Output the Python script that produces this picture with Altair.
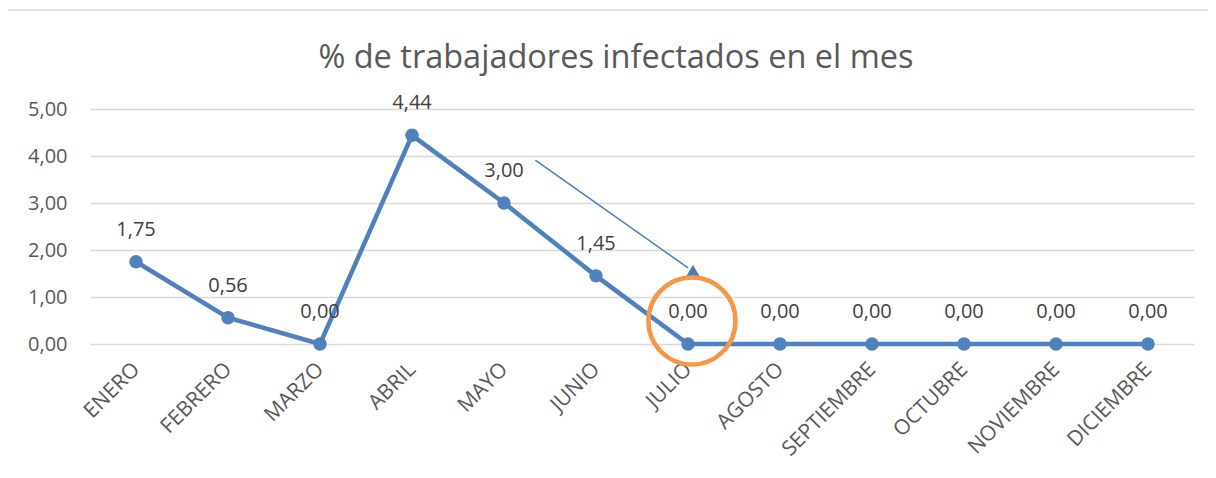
import altair as alt
import pandas as pd

# ---- data ----
months = ["ENERO", "FEBRERO", "MARZO", "ABRIL", "MAYO", "JUNIO", "JULIO",
          "AGOSTO", "SEPTIEMBRE", "OCTUBRE", "NOVIEMBRE", "DICIEMBRE"]
values = [1.75, 0.56, 0.00, 4.44, 3.00, 1.45, 0.00, 0.00, 0.00, 0.00, 0.00, 0.00]
y_ticks = [0, 1, 2, 3, 4, 5]

# annotation positions in data units (month index, value)
arrow_x = [4.34]
arrow_x2 = [6.0]
arrow_y = [3.91]
arrow_y2 = [1.62]
head_x = [6.054]
head_y = [1.553]
circle_x = [6.043]
circle_y = [0.49]

FONT = "Open Sans"
GREY = "#595959"
BLUE = "#4F81BD"

df = pd.DataFrame({"idx": list(range(len(months))), "mes": months, "valor": values})
df["etiqueta"] = [f"{v:.2f}".replace(".", ",") for v in values]

month_expr = "[" + ",".join(f"'{m}'" for m in months) + "][datum.value]"

xscale = alt.Scale(domain=[-0.5, len(months) - 0.5], nice=False, zero=False)
yscale = alt.Scale(domain=[0, 5], nice=False)

base = alt.Chart(df)

x_enc = alt.X(
    "idx:Q", scale=xscale, title=None,
    axis=alt.Axis(values=list(range(len(months))), labelExpr=month_expr,
                  grid=False, ticks=False, domain=False, labelAngle=-45,
                  labelAlign="right", labelBaseline="middle", labelPadding=22,
                  labelOverlap=False, labelFont=FONT, labelFontSize=21, labelColor=GREY),
)
y_enc = alt.Y(
    "valor:Q", scale=yscale, title=None,
    axis=alt.Axis(values=y_ticks, labelExpr="replace(format(datum.value, '.2f'), '.', ',')",
                  grid=True, gridColor="#D9D9D9", gridWidth=1.5, ticks=False, domain=False,
                  labelPadding=23, labelFont=FONT, labelFontSize=20, labelColor=GREY),
)

line = base.mark_line(color=BLUE, strokeWidth=4.5).encode(x=x_enc, y=y_enc)
pts = base.mark_point(filled=True, color=BLUE, size=180, opacity=1, shape="circle").encode(
    x="idx:Q", y="valor:Q")
labels = base.mark_text(dy=-32, font=FONT, fontSize=20, color="#404040", baseline="middle").encode(
    x="idx:Q", y="valor:Q", text="etiqueta:N")

arrow_df = pd.DataFrame({"x": arrow_x, "x2": arrow_x2, "y": arrow_y, "y2": arrow_y2})
arrow = alt.Chart(arrow_df).mark_rule(color="#4A7EBB", strokeWidth=1.5).encode(
    x="x:Q", x2="x2:Q", y="y:Q", y2="y2:Q")
head_df = pd.DataFrame({"x": head_x, "y": head_y})
head = alt.Chart(head_df).mark_point(shape="triangle-up", filled=True, color="#4A7EBB",
                                      size=210, opacity=1).encode(x="x:Q", y="y:Q")
circ_df = pd.DataFrame({"x": circle_x, "y": circle_y})
circ = alt.Chart(circ_df).mark_point(shape="circle", filled=False, color="#F79646",
                                      strokeWidth=4.5, size=7569, opacity=1).encode(x="x:Q", y="y:Q")

# chart frame (decoration)
frame_top = alt.Chart(circ_df).mark_rule(color="#D9D9D9", strokeWidth=1.5).encode(
    x=alt.value(-83), x2=alt.value(1200), y=alt.value(-99))
frame_left = alt.Chart(circ_df).mark_rule(color="#D9D9D9", strokeWidth=1.5).encode(
    x=alt.value(-83), y=alt.value(-99), y2=alt.value(420))

chart = alt.layer(frame_top, frame_left, line, arrow, head, pts, labels, circ).properties(
    width=1104, height=235,
    title=alt.TitleParams("% de trabajadores infectados en el mes", font=FONT, fontSize=32.5,
                          fontWeight="normal", color=GREY, anchor="middle", dx=-26,
                          offset=0, dy=65),
    autosize=alt.AutoSizeParams(type="none"),
    padding={"left": 82, "top": 101, "right": 14, "bottom": 126},
).configure_view(stroke=None)

chart.save("out.html", embed_options={"renderer": "svg", "actions": False})
